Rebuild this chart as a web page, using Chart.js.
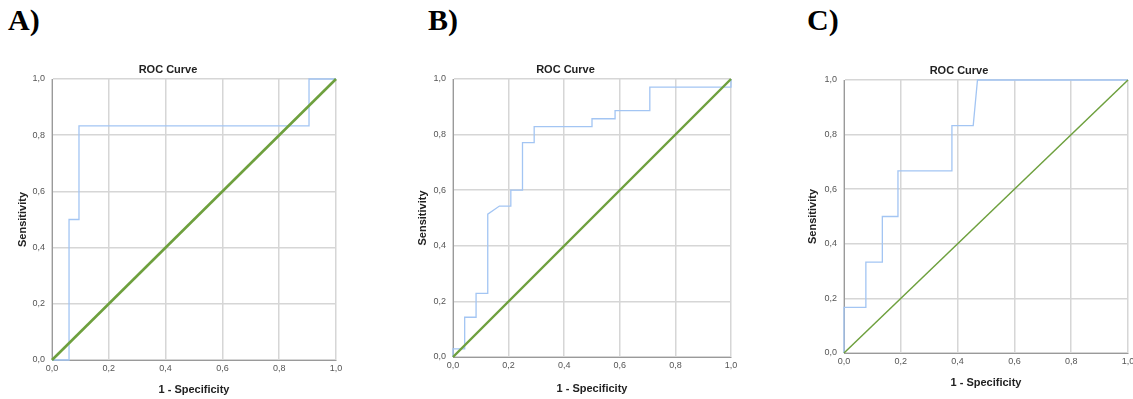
<!DOCTYPE html>
<html>
<head>
<meta charset="utf-8">
<script src="https://cdn.jsdelivr.net/npm/chart.js@4"></script>
<style>
  html, body { margin: 0; padding: 0; background: #fff; }
  body { width: 1133px; height: 399px; position: relative; overflow: hidden; }
  .panel { position: absolute; top: 0; height: 399px; }
  .tag { position: absolute; top: 0; font-family: "Liberation Serif", "Times New Roman", serif; font-weight: bold; font-size: 30px; line-height: 40px; color: #000; }
</style>
</head>
<body>
<div class="tag" style="left:8px">A)</div>
<div class="tag" style="left:428px">B)</div>
<div class="tag" style="left:807px">C)</div>
<div class="panel" style="left:0px;width:345px"><canvas id="chartA"></canvas></div>
<div class="panel" style="left:400px;width:340px"><canvas id="chartB"></canvas></div>
<div class="panel" style="left:790px;width:349px"><canvas id="chartC"></canvas></div>
<script>
// values
const tickLabels = ["0,0", "0,2", "0,4", "0,6", "0,8", "1,0"];
const refX = [0, 1];
const refY = [0, 1];

const aFpr = [0, 0.06, 0.06, 0.095, 0.095, 0.905, 0.905, 1];
const aTpr = [0, 0, 0.5, 0.5, 0.833, 0.833, 1, 1];

const bFpr = [0, 0, 0.042, 0.042, 0.083, 0.083, 0.125, 0.125, 0.167, 0.208, 0.208, 0.25, 0.25, 0.292, 0.292, 0.5, 0.5, 0.583, 0.583, 0.708, 0.708, 1, 1];
const bTpr = [0, 0.029, 0.029, 0.143, 0.143, 0.229, 0.229, 0.514, 0.543, 0.543, 0.6, 0.6, 0.771, 0.771, 0.829, 0.829, 0.857, 0.857, 0.886, 0.886, 0.971, 0.971, 1];

const cFpr = [0, 0, 0.077, 0.077, 0.135, 0.135, 0.19, 0.19, 0.38, 0.38, 0.455, 0.47, 1];
const cTpr = [0, 0.167, 0.167, 0.333, 0.333, 0.5, 0.5, 0.667, 0.667, 0.833, 0.833, 1, 1];

function toPoints(xs, ys) {
    let pts = [];
    for (let i = 0; i < xs.length; i++) {
        pts.push({ x: xs[i], y: ys[i] });
    }
    return pts;
}

function makeRoc(id, xs, ys, opt) {
    const ctx = document.getElementById(id).getContext("2d");
    const axisTitle = { family: "'Liberation Sans', Arial, sans-serif", size: 11, weight: "bold" };
    const tickFont = { family: "'Liberation Sans', Arial, sans-serif", size: 9 };
    const grid = { color: "#d6d6d6", lineWidth: 1.5, drawTicks: false };
    const border = { color: "#9a9a9a", width: 1 };
    return new Chart(ctx, {
        type: "scatter",
        data: {
            datasets: [{
                data: toPoints(refX, refY),
                showLine: true,
                borderColor: "#6ea03e",
                borderWidth: opt.refWidth,
                pointRadius: 0,
                clip: 4
            }, {
                data: toPoints(xs, ys),
                showLine: true,
                borderColor: "#a3c5f3",
                borderWidth: 1.3,
                pointRadius: 0,
                tension: 0,
                clip: 4
            }]
        },
        options: {
            responsive: true,
            maintainAspectRatio: false,
            animation: false,
            layout: { padding: { top: 0, left: 0, bottom: 0, right: opt.padRight } },
            plugins: {
                legend: { display: false },
                tooltip: { enabled: false },
                title: {
                    display: true,
                    text: "ROC Curve",
                    color: "#222",
                    font: axisTitle,
                    padding: { top: opt.titleTop, bottom: opt.titleBottom }
                }
            },
            scales: {
                x: {
                    type: "linear",
                    min: 0,
                    max: 1,
                    grid: grid,
                    border: border,
                    ticks: {
                        stepSize: 0.2,
                        padding: 3,
                        color: "#555",
                        font: tickFont,
                        maxRotation: 0,
                        callback: (v, i) => tickLabels[i]
                    },
                    title: {
                        display: true,
                        text: "1 - Specificity",
                        color: "#222",
                        font: axisTitle,
                        padding: { top: 0, bottom: opt.xTitlePad }
                    },
                    afterFit: (s) => {
                        s.height = opt.xHeight;
                        s.paddingLeft = 0;
                        s.paddingRight = 0;
                    }
                },
                y: {
                    type: "linear",
                    min: 0,
                    max: 1,
                    grid: grid,
                    border: border,
                    ticks: {
                        stepSize: 0.2,
                        padding: 7,
                        color: "#555",
                        font: tickFont,
                        callback: (v, i) => tickLabels[i]
                    },
                    title: {
                        display: true,
                        text: "Sensitivity",
                        color: "#222",
                        font: axisTitle,
                        padding: { top: 16.4, bottom: 0 }
                    },
                    afterFit: (s) => {
                        s.width = opt.yWidth;
                        s.paddingTop = 0;
                        s.paddingBottom = 0;
                    }
                }
            }
        }
    });
}

makeRoc("chartA", aFpr, aTpr, { padRight: 9, titleTop: 63.4, titleBottom: 2.4, xHeight: 39, xTitlePad: 2.4, yWidth: 52, refWidth: 2.6 });
makeRoc("chartB", bFpr, bTpr, { padRight: 9, titleTop: 63.4, titleBottom: 2.4, xHeight: 42, xTitlePad: 3.4, yWidth: 53, refWidth: 2.4 });
makeRoc("chartC", cFpr, cTpr, { padRight: 11, titleTop: 64.4, titleBottom: 2.4, xHeight: 46, xTitlePad: 9.4, yWidth: 54, refWidth: 1.5 });
</script>
</body>
</html>
